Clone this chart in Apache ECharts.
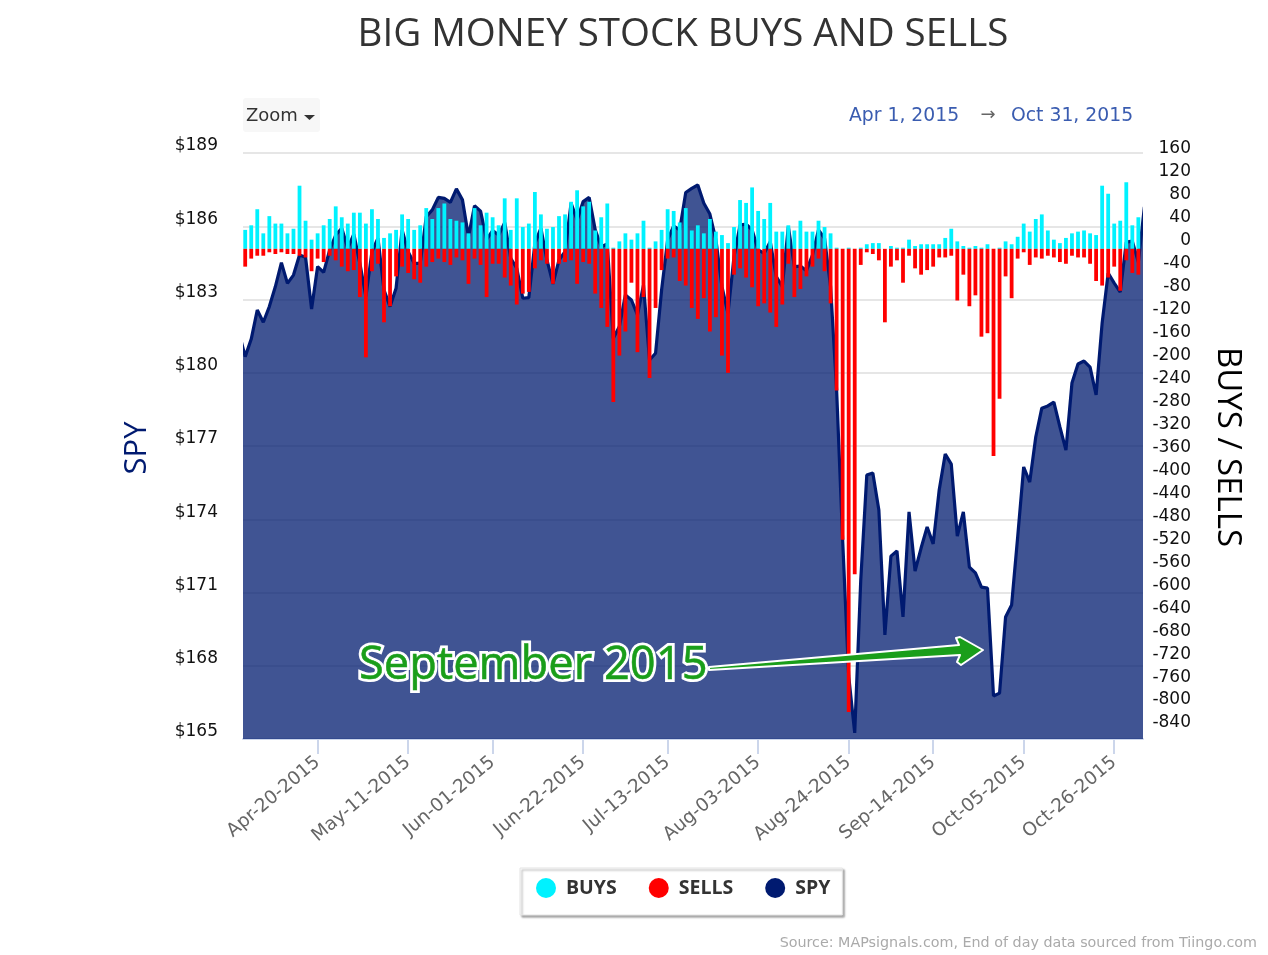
<!DOCTYPE html>
<html><head><meta charset="utf-8">
<style>html,body{margin:0;padding:0;background:#fff}#c{width:1268px;height:955px}</style>
<script src="https://cdn.jsdelivr.net/npm/echarts@6/dist/echarts.min.js"></script>
</head><body><div id="c"></div>
<script>
// Trading-day index positions of the x-axis ticks, and their labels
const tickIndex = [12,27,41,56,70,85,100,114,129,144];
const tickLabels = ['Apr-20-2015','May-11-2015','Jun-01-2015','Jun-22-2015','Jul-13-2015','Aug-03-2015','Aug-24-2015','Sep-14-2015','Oct-05-2015','Oct-26-2015'];
// Daily buys, index 0..148
const buys = [33,41,69,27,57,44,44,27,35,110,49,16,27,41,52,74,55,44,63,63,44,69,52,19,27,33,60,52,33,41,71,52,71,79,52,49,46,27,71,41,63,55,41,88,33,88,38,44,99,
60,35,38,57,60,82,102,74,82,32,55,79,2,13,27,16,27,49,2,13,33,69,66,46,71,32,41,27,52,30,24,10,38,85,80,107,66,52,80,30,30,41,32,49,30,30,49,38,27,2,0,2,0,2,8,10,10,0,5,2,2,16,5,8,8,8,8,19,35,13,5,2,5,2,8,0,2,13,8,21,44,30,52,60,32,16,10,19,27,30,32,27,24,110,96,44,49,116,41,55];
// Daily sells, index 0..148
const sells = [-31,-17,-12,-12,-6,-9,-6,-9,-9,-12,-15,-39,-17,-23,-12,-20,-31,-39,-37,-84,-189,-39,-26,-128,-100,-48,-31,-42,-53,-59,-31,-23,-17,-23,-28,-15,-20,-61,-17,-28,-84,-26,-26,-50,-64,-97,-78,-75,-34,
-20,-26,-61,-26,-23,-20,-61,-23,-26,-78,-103,-136,-267,-186,-144,-59,-180,-84,-225,-103,-37,-17,-15,-56,-64,-103,-122,-86,-144,-119,-186,-216,-45,-34,-50,-67,-100,-95,-111,-136,-97,-26,-84,-70,-48,-31,-17,-39,-95,-247,-507,-807,-567,-28,-6,-9,-20,-128,-31,-20,-59,-12,-34,-45,-37,-31,-15,-15,-12,-90,-45,-100,-81,-153,-147,-361,-261,-48,-86,-17,-6,-28,-15,-17,-12,-15,-23,-26,-12,-15,-15,-26,-56,-64,-50,-31,-73,-20,-42,-45];
// SPY close, index -1..149 (first and last fall just outside the zoom window)
const spy = [181.61,180.66,181.38,182.57,182.07,182.71,183.53,184.51,183.66,184.00,184.82,184.73,182.61,184.35,184.11,185.03,185.64,185.92,185.10,185.68,184.48,183.12,184.96,185.51,183.39,182.71,183.46,185.85,184.96,184.48,184.48,186.39,186.67,187.18,187.14,186.98,187.53,187.08,185.57,186.84,186.62,185.46,185.82,185.64,186.15,184.69,184.28,183.05,183.08,185.30,185.92,
184.62,183.64,184.62,184.96,186.94,186.26,187.01,187.18,185.85,185.16,185.27,181.41,181.89,183.19,182.98,182.37,183.59,180.52,180.80,183.39,185.44,186.01,185.85,187.38,187.55,187.69,186.94,186.50,185.44,183.53,182.43,184.75,186.05,186.09,185.85,185.03,184.89,185.37,183.94,183.53,185.98,184.35,184.37,184.18,184.82,185.85,185.51,183.53,
179.29,173.15,167.58,165.25,171.51,175.81,175.89,174.38,169.26,172.49,172.70,170.00,174.30,171.88,172.82,173.68,172.99,175.20,176.67,176.26,173.31,174.30,172.04,171.80,171.22,171.18,166.76,166.88,170.00,170.49,173.27,176.14,175.52,177.37,178.55,178.64,178.80,177.78,176.83,179.58,180.36,180.48,180.23,179.09,182.04,184.08,183.67,183.30,185.35,185.39,184.53,186.79];

const FONT = '"DejaVu Sans"';
const xMin = -0.365, xMax = 148.77;
const spyPts = spy.map((v,i)=>[i-1,v]);
const chart = echarts.init(document.getElementById('c'));
chart.setOption({
  animation:false,
  backgroundColor:'#fff',
  title:{text:'BIG MONEY STOCK BUYS AND SELLS',left:678,top:11,textAlign:'center',
    textStyle:{fontFamily:'"Open Sans"',fontSize:38.5,fontWeight:'normal',color:'#333'}},
  legend:{data:['BUYS','SELLS','SPY'],left:520,top:868,padding:[10,12,17,16],icon:'circle',
    itemWidth:20,itemHeight:20,itemGap:32,backgroundColor:'#fff',borderColor:'#e4e4e4',borderWidth:1,
    shadowColor:'rgba(0,0,0,0.35)',shadowBlur:2,shadowOffsetX:2,shadowOffsetY:2,
    textStyle:{fontFamily:'"Open Sans"',fontSize:19.5,fontWeight:'bold',color:'#333',padding:[4,0,0,5]}},
  grid:[
    {left:243,width:900,top:153,height:586},
    {left:243,width:900,top:157,height:574},
    {left:244.6,width:896.8,top:153,height:586}
  ],
  xAxis:[
    {type:'value',gridIndex:0,min:xMin,max:xMax,splitLine:{show:false},
     axisLine:{show:true,lineStyle:{color:'#ccd6eb',width:2}},
     axisTick:{show:true,customValues:tickIndex,length:15,lineStyle:{color:'#ccd6eb',width:2}},
     axisLabel:{customValues:tickIndex,rotate:40,margin:21,color:'#666',fontSize:18.5,fontFamily:FONT,
       formatter:v=>tickLabels[tickIndex.indexOf(v)]||''}},
    {type:'value',gridIndex:1,min:xMin,max:xMax,show:false,splitLine:{show:false}},
    {type:'value',gridIndex:2,min:-0.1,max:148.505,show:false,splitLine:{show:false}}
  ],
  yAxis:[
    {type:'value',gridIndex:0,position:'left',min:165,max:189,interval:3,
     axisLine:{show:false},axisTick:{show:false},
     splitLine:{show:true,lineStyle:{color:'#e6e6e6',width:2}},
     axisLabel:{margin:25,color:'#111',fontSize:17,fontFamily:FONT,verticalAlign:'bottom',lineHeight:14,formatter:v=>'$'+v},
     name:'SPY',nameLocation:'middle',nameGap:90,
     nameTextStyle:{fontFamily:'"Open Sans"',fontSize:31,color:'#001a70',padding:[0,4,0,0]}},
    {type:'value',gridIndex:1,position:'right',min:-840,max:160,interval:40,
     axisLine:{show:false},axisTick:{show:false},splitLine:{show:false},
     axisLabel:{margin:48,align:'right',color:'#111',fontSize:17,fontFamily:FONT,verticalAlign:'bottom',lineHeight:16},
     name:'BUYS / SELLS',nameLocation:'middle',nameGap:68,nameRotate:-90,
     nameTextStyle:{fontFamily:'"Open Sans"',fontSize:33,color:'#000',padding:[0,0,0,6]}},
    {type:'value',gridIndex:2,min:165,max:189,show:false,splitLine:{show:false}}
  ],
  series:[
    {name:'SPY',type:'line',z:1,xAxisIndex:0,yAxisIndex:0,data:spyPts,
     showSymbol:false,symbol:'none',clip:true,
     itemStyle:{color:'#001a70'},lineStyle:{width:0},
     areaStyle:{origin:'start',color:'rgb(0,27,111)',opacity:0.75}},
    {name:'SPY',type:'line',z:2,xAxisIndex:2,yAxisIndex:2,data:spyPts,
     showSymbol:false,symbol:'none',clip:true,
     itemStyle:{color:'#001a70'},lineStyle:{color:'#001a70',width:3.2}},
    {name:'BUYS',type:'bar',z:5,xAxisIndex:1,yAxisIndex:1,stack:'flow',barWidth:3.8,
     data:buys.map((v,i)=>[i,v]),itemStyle:{color:'#00f2ff'}},
    {name:'SELLS',type:'bar',z:5,xAxisIndex:1,yAxisIndex:1,stack:'flow',barWidth:3.8,
     data:sells.map((v,i)=>[i,v]),itemStyle:{color:'#ff0000'}}
  ],
  graphic:[
    {type:'rect',z:50,shape:{x:243,y:98,width:77,height:34,r:3},style:{fill:'#f7f7f7'}},
    {type:'text',z:51,style:{text:'Zoom',x:246,y:116,fill:'#333',font:'18px "DejaVu Sans"',verticalAlign:'middle'}},
    {type:'polygon',z:51,shape:{points:[[304,115],[315,115],[309.5,120]]},style:{fill:'#333'}},
    {type:'text',z:51,style:{text:'Apr 1, 2015',x:849,y:116,fill:'#3a5cb0',font:'18.8px "DejaVu Sans"',verticalAlign:'middle'}},
    {type:'text',z:51,style:{text:'→',x:988,y:115,fill:'#666',font:'18px "DejaVu Sans"',align:'center',verticalAlign:'middle'}},
    {type:'text',z:51,style:{text:'Oct 31, 2015',x:1011,y:116,fill:'#3a5cb0',font:'18.8px "DejaVu Sans"',verticalAlign:'middle'}},
    {type:'polygon',z:60,shape:{points:[[709,667],[959,645],[956,638],[960,637],[983,650],[961,665],[957,662],[960,655],[709,670]]},
      style:{fill:'#1a9e1a',stroke:'#fff',lineWidth:2,lineJoin:'round'}},
    {type:'text',z:61,style:{text:'September 2015',x:359,y:666,fill:'#fff',stroke:'#fff',lineWidth:6,lineJoin:'round',
      font:'45.3px "Open Sans"',verticalAlign:'middle'}},
    {type:'text',z:62,style:{text:'September 2015',x:359,y:666,fill:'#1a9e1a',stroke:'#1a9e1a',lineWidth:0.5,
      font:'45.3px "Open Sans"',verticalAlign:'middle'}},
    {type:'text',z:51,style:{text:'Source: MAPsignals.com, End of day data sourced from Tiingo.com',x:1257,y:943,fill:'#aaa',
      font:'14.3px "DejaVu Sans"',align:'right',verticalAlign:'middle'}}
  ]
});
</script></body></html>
